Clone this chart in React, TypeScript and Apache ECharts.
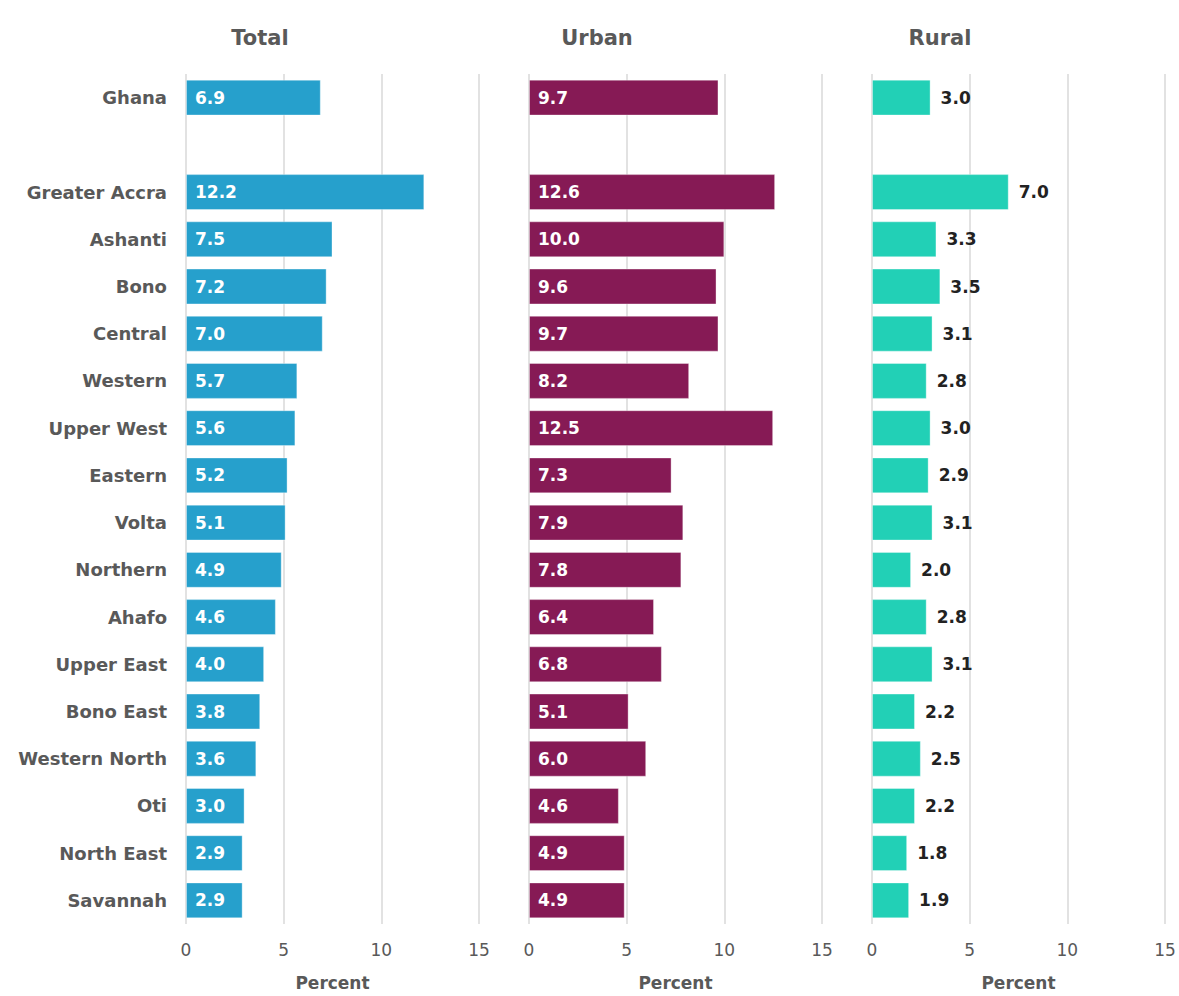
import React, { useEffect, useRef } from "react";
import * as echarts from "echarts";

const categories = [
  "Ghana", "", "Greater Accra", "Ashanti", "Bono", "Central", "Western", "Upper West",
  "Eastern", "Volta", "Northern", "Ahafo", "Upper East", "Bono East", "Western North",
  "Oti", "North East", "Savannah",
];
const totalValues = [6.9, null, 12.2, 7.5, 7.2, 7.0, 5.7, 5.6, 5.2, 5.1, 4.9, 4.6, 4.0, 3.8, 3.6, 3.0, 2.9, 2.9];
const urbanValues = [9.7, null, 12.6, 10.0, 9.6, 9.7, 8.2, 12.5, 7.3, 7.9, 7.8, 6.4, 6.8, 5.1, 6.0, 4.6, 4.9, 4.9];
const ruralValues = [3.0, null, 7.0, 3.3, 3.5, 3.1, 2.8, 3.0, 2.9, 3.1, 2.0, 2.8, 3.1, 2.2, 2.5, 2.2, 1.8, 1.9];
const panelTitles = ["Total", "Urban", "Rural"];
const xTicks = [0, 5, 10, 15];

const FONT = "'DejaVu Sans', sans-serif";
const GREY = "#595959";

export default function App() {
  const ref = useRef<HTMLDivElement>(null);
  useEffect(() => {
    if (!ref.current) return;
    const chart = echarts.init(ref.current, undefined, { renderer: "svg" });
    const lefts = [186, 529, 872];
    const titleX = [260, 597, 940];
    const colors = ["#26A0CC", "#861A55", "#22D0B6"];
    const seriesData = [totalValues, urbanValues, ruralValues];
    const grids = lefts.map((l) => ({ left: l, top: 74, width: 293, height: 852, containLabel: false }));
    const xAxes = lefts.map((_, i) => ({
      type: "value",
      gridIndex: i,
      min: xTicks[0],
      max: xTicks[xTicks.length - 1],
      interval: 5,
      name: "Percent",
      nameLocation: "middle",
      nameGap: 50,
      nameTextStyle: { color: GREY, fontSize: 17, fontWeight: "bold", fontFamily: FONT },
      axisLine: { show: false },
      axisTick: { show: false },
      axisLabel: { color: GREY, fontSize: 17, fontFamily: FONT, margin: 17 },
      splitLine: { show: true, lineStyle: { color: "#D9D9D9", width: 1.5 } },
    }));
    const yAxes = lefts.map((_, i) => ({
      type: "category",
      gridIndex: i,
      data: categories,
      inverse: true,
      axisLine: { show: false },
      axisTick: { show: false },
      axisLabel: {
        show: i === 0,
        color: GREY,
        fontSize: 18,
        fontWeight: "bold",
        fontFamily: FONT,
        margin: 19,
      },
    }));
    const series = seriesData.map((d, i) => ({
      type: "bar",
      xAxisIndex: i,
      yAxisIndex: i,
      data: d,
      barWidth: "76%",
      itemStyle: { color: colors[i], borderColor: "rgba(255,255,255,0.35)", borderWidth: 1 },
      label: {
        show: true,
        position: i === 2 ? "right" : "insideLeft",
        distance: i === 2 ? 10 : 9,
        color: i === 2 ? "#222222" : "#FFFFFF",
        fontSize: 17,
        fontWeight: "bold",
        fontFamily: FONT,
        formatter: (p: any) => (p.value == null ? "" : Number(p.value).toFixed(1)),
      },
    }));
    chart.setOption({
      animation: false,
      backgroundColor: "#FFFFFF",
      grid: grids,
      xAxis: xAxes,
      yAxis: yAxes,
      series,
      graphic: panelTitles.map((t, i) => ({
        type: "text",
        x: titleX[i],
        y: 38,
        style: {
          text: t,
          fill: GREY,
          font: `bold 21px ${FONT}`,
          textAlign: "center",
          textVerticalAlign: "middle",
        },
      })),
    });
    return () => chart.dispose();
  }, []);
  return (
    <div
      ref={ref}
      style={{ position: "fixed", left: 0, top: 0, width: 1179, height: 996, background: "#fff" }}
    />
  );
}
